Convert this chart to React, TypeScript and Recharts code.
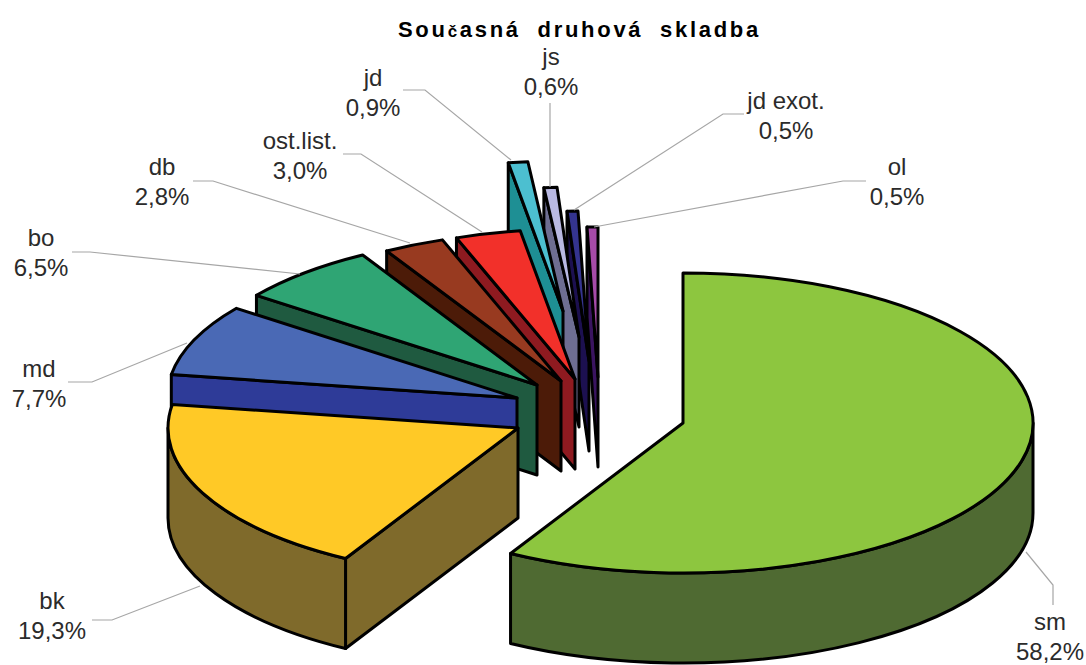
import React from 'react';
import { PieChart, Pie } from 'recharts';

const categories = ['sm', 'bk', 'md', 'bo', 'db', 'ost.list.', 'jd', 'js', 'jd exot.', 'ol'];
const shares = [58.2, 19.3, 7.7, 6.5, 2.8, 3.0, 0.9, 0.6, 0.5, 0.5];
const shareLabels = ['58,2%', '19,3%', '7,7%', '6,5%', '2,8%', '3,0%', '0,9%', '0,6%', '0,5%', '0,5%'];

const topColors = ['#8DC63F', '#FFC926', '#4A69B5', '#2FA574', '#983A20', '#F2302A', '#4CBFD0', '#B9B9E2', '#34348F', '#A64BA8'];
const wallColors = ['#4F6A32', '#7F6A2B', '#2E3B98', '#1F5A40', '#4C1B08', '#8E1A20', '#1E8F94', '#6E6E92', '#1C1050', '#3A1460'];

// how far each slice is pulled out of the pie centre
const explode = [[83, 23], [-82, 28], [-83, -2], [-63, -15], [-39, -19], [-25, -21], [-37, -89], [-21, -63], [-11, -39], [-2, -23]];

// label centre + first line centre y, then the leader line
const labelAt = [[1050, 621], [52, 600], [39, 368], [41, 237], [162, 166], [300, 140], [373, 77], [551, 56], [786, 100], [897, 166]];
const leaders = [
  [[1053, 605], [1053, 585], [1026, 552]],
  [[92, 620], [112, 620], [200, 586]],
  [[68, 382], [92, 382], [187, 343]],
  [[72, 252], [90, 252], [300, 274]],
  [[193, 181], [213, 181], [410, 243]],
  [[343, 154], [361, 154], [482, 232]],
  [[403, 90], [425, 90], [511, 160]],
  [[550, 103], [550, 187]],
  [[744, 114], [723, 114], [574, 210]],
  [[866, 181], [843, 181], [594, 227]],
];

// reversed so the back slices get painted first
const rows = categories.map((name, i) => ({ name, value: shares[i], idx: i })).reverse();

const SQUASH = 150 / 350;
const DEPTH = 90;
const rad = (a: number) => (a * Math.PI) / 180;

const Slice3D = (props: any) => {
  const { cx, cy, outerRadius, startAngle, endAngle, idx } = props;
  const rx = outerRadius;
  const ry = outerRadius * SQUASH;
  const ox = cx + explode[idx][0];
  const oy = cy + explode[idx][1];
  const px = (a: number) => ox + rx * Math.cos(rad(a));
  const py = (a: number) => oy - ry * Math.sin(rad(a));
  const style = { stroke: '#000', strokeWidth: 3, strokeLinejoin: 'round' as const };

  const face = (a: number) =>
    `M${ox},${oy} L${px(a)},${py(a)} L${px(a)},${py(a) + DEPTH} L${ox},${oy + DEPTH} Z`;
  const lo = Math.max(startAngle, 180);
  const hi = Math.min(endAngle, 360);
  const large = endAngle - startAngle > 180 ? 1 : 0;

  return (
    <g>
      {Math.cos(rad(endAngle)) < -0.001 && <path d={face(endAngle)} fill={wallColors[idx]} {...style} />}
      {Math.cos(rad(startAngle)) > 0.001 && <path d={face(startAngle)} fill={wallColors[idx]} {...style} />}
      {hi > lo && (
        <path
          d={`M${px(hi)},${py(hi)} A${rx},${ry} 0 0 1 ${px(lo)},${py(lo)} L${px(lo)},${py(lo) + DEPTH} A${rx},${ry} 0 0 0 ${px(hi)},${py(hi) + DEPTH} Z`}
          fill={wallColors[idx]}
          {...style}
        />
      )}
      <path
        d={`M${ox},${oy} L${px(endAngle)},${py(endAngle)} A${rx},${ry} 0 ${large} 1 ${px(startAngle)},${py(startAngle)} Z`}
        fill={topColors[idx]}
        {...style}
      />
    </g>
  );
};

const SliceLabel = (props: any) => {
  const i = props.idx ?? props.payload?.idx;
  const [x, y] = labelAt[i];
  return (
    <g>
      <polyline points={leaders[i].map((p) => p.join(',')).join(' ')} fill="none" stroke="#A6A6A6" strokeWidth={1.2} />
      <text x={x} y={y} textAnchor="middle" dominantBaseline="central" fontSize={24} fontFamily="'Liberation Sans', Arial, sans-serif" fill="#2B2B2B">
        {categories[i]}
      </text>
      <text x={x} y={y + 30} textAnchor="middle" dominantBaseline="central" fontSize={24} fontFamily="'Liberation Sans', Arial, sans-serif" fill="#2B2B2B">
        {shareLabels[i]}
      </text>
    </g>
  );
};

export default function App() {
  return (
    <div style={{ position: 'absolute', left: 0, top: 0, width: 1086, height: 665, background: '#fff', overflow: 'hidden' }}>
      <PieChart width={1086} height={665} margin={{ top: 0, right: 0, bottom: 0, left: 0 }}>
        <Pie
          data={rows}
          dataKey="value"
          nameKey="name"
          cx={600}
          cy={400}
          outerRadius={350}
          startAngle={90}
          endAngle={450}
          isAnimationActive={false}
          shape={Slice3D}
          label={SliceLabel}
          labelLine={false}
        />
      </PieChart>
      <div
        style={{
          position: 'absolute',
          left: 398,
          top: 17,
          whiteSpace: 'nowrap',
          fontFamily: "'Liberation Sans', Arial, sans-serif",
          fontWeight: 'bold',
          fontSize: 22,
          letterSpacing: 2.7,
          wordSpacing: 8,
          color: '#000',
        }}
      >
        Sou<span style={{ fontSize: 17 }}>č</span>asná druhová skladba
      </div>
    </div>
  );
}
